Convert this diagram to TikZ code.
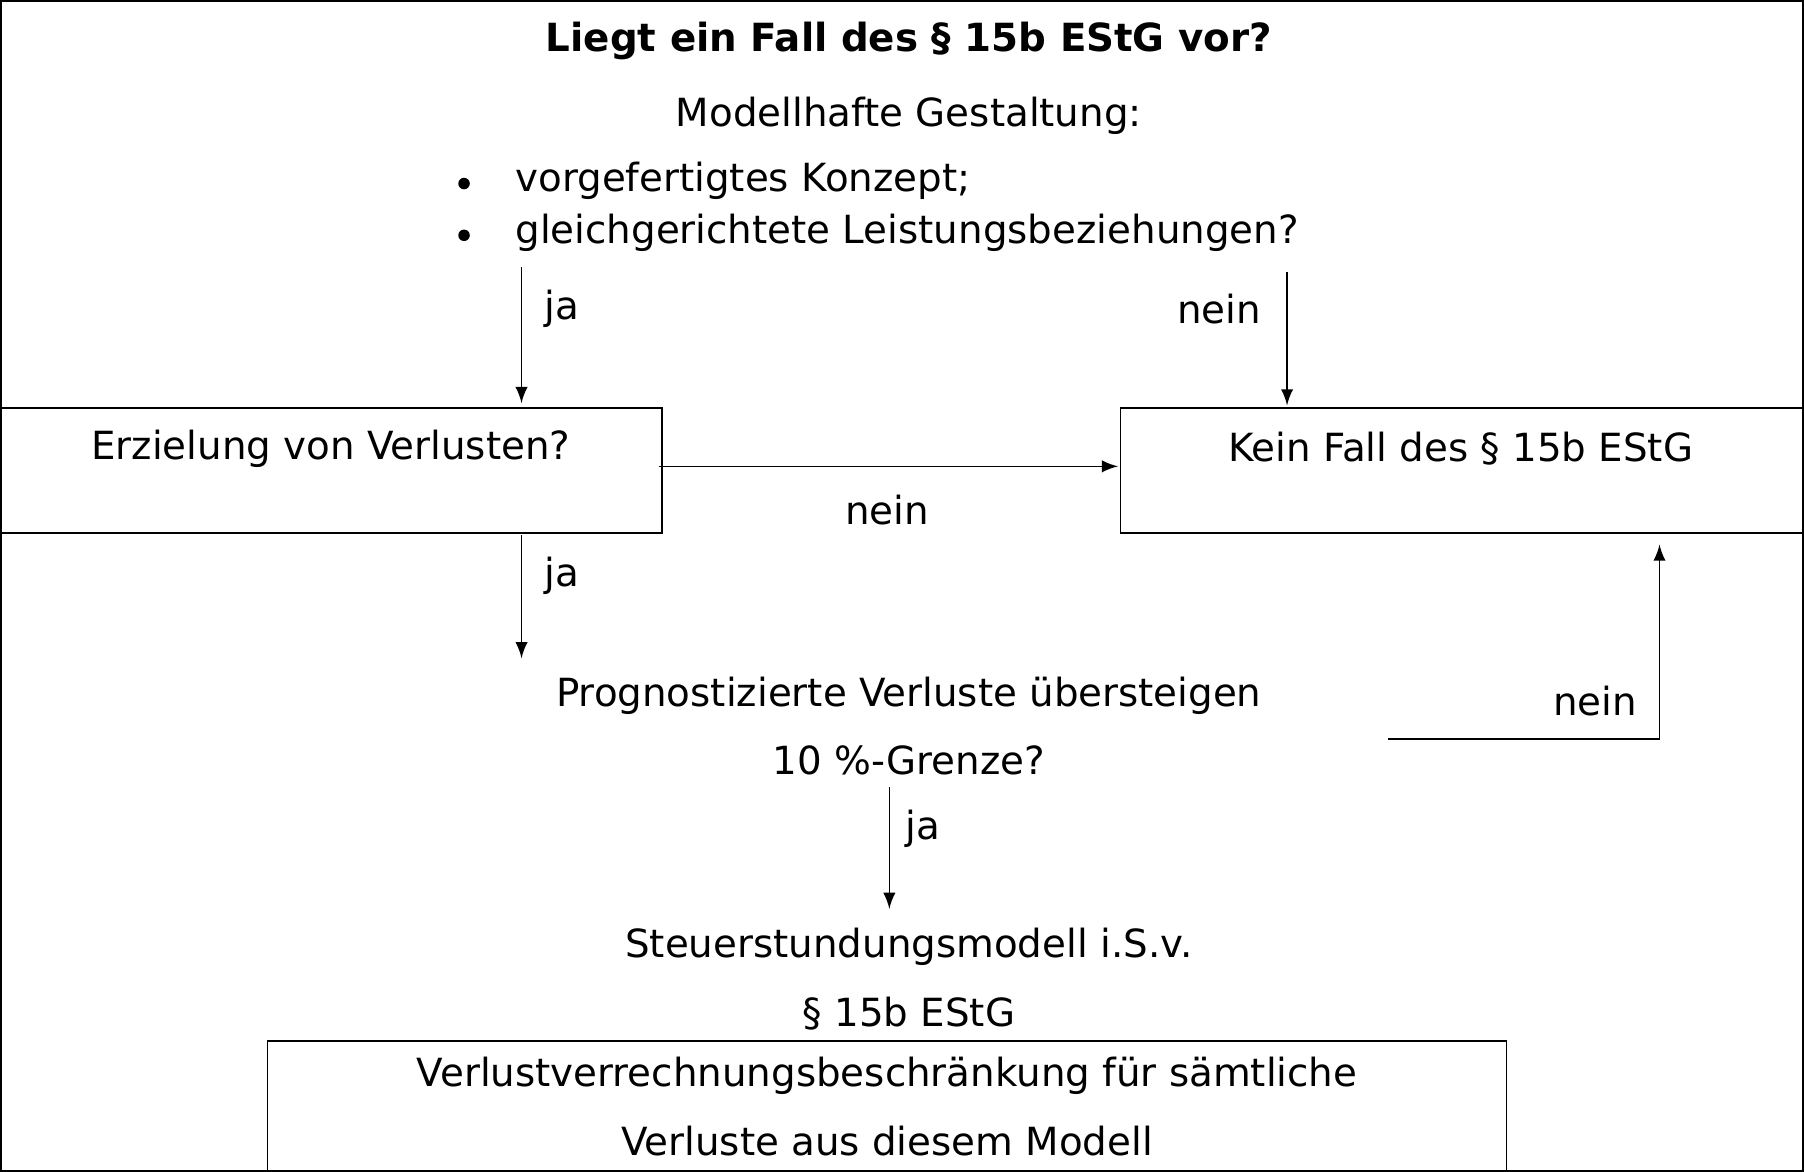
\documentclass[tikz,border=0pt]{standalone}
\usepackage{fontspec}
\setmainfont{DejaVu Sans}
\usetikzlibrary{positioning}
\begin{document}
\begin{tikzpicture}[x=0.1mm,y=-0.1mm,
    txt/.style={font=\fontsize{9.6}{13}\selectfont,align=center,inner sep=0pt},
    box/.style={draw,thin},
    arr/.style={-latex,thin}]
    % Frame
    \draw[thin] (0,0) rectangle (1568,1018);
    \useasboundingbox (0,0) rectangle (1568,1018);

    % Question
    \node[txt,font=\fontsize{9.6}{13}\selectfont\bfseries] (title) at (790,35) {Liegt ein Fall des § 15b EStG vor?};
    \node[txt] (model) at (790,100) {Modellhafte Gestaltung:};
    \node[txt,anchor=west] (b1) at (447,157) {vorgefertigtes Konzept;};
    \node[txt,anchor=west] (b2) at (447,202) {gleichgerichtete Leistungsbeziehungen?};
    \fill (403,159) circle [radius=5];
    \fill (403,204) circle [radius=5];

    % Boxes
    \draw[box] (0,354) rectangle (575,463);
    \node[txt] (verl) at (287,390) {Erzielung von Verlusten?};
    \draw[box] (974,354) rectangle (1568,463);
    \node[txt] (kein) at (1270,390) {Kein Fall des § 15b EStG};
    \draw[box] (232,905) rectangle (1310,1018);
    \node[txt] (beschr) at (771,962) {Verlustverrechnungsbeschränkung für sämtliche\\[4pt]Verluste aus diesem Modell};

    \node[txt] (prog) at (790,631) {Prognostizierte Verluste übersteigen\\[4pt]10 \%-Grenze?};
    \node[txt] (steuer) at (790,851) {Steuerstundungsmodell i.S.v.\\[4pt]§ 15b EStG};

    % Connectors
    \coordinate (a1) at (453,232); \coordinate (a2) at (453,350);
    \coordinate (n1) at (1119,236); \coordinate (n2) at (1119,352);
    \coordinate (h1) at (573,405); \coordinate (h2) at (972,405);
    \coordinate (j1) at (453,465); \coordinate (j2) at (453,572);
    \coordinate (r1) at (1207,642); \coordinate (r2) at (1443,642); \coordinate (r3) at (1443,473);
    \coordinate (s1) at (773,684); \coordinate (s2) at (773,790);
    \draw[arr] (a1) -- (a2);
    \draw[arr] (n1) -- (n2);
    \draw[arr] (h1) -- (h2);
    \draw[arr] (j1) -- (j2);
    \draw[arr] (r1) -- (r2) -- (r3);
    \draw[arr] (s1) -- (s2);

    % Labels
    \node[txt] (lja1) at (488,268) {ja};
    \node[txt] (lnein1) at (1060,268) {nein};
    \node[txt] (lnein2) at (771,443) {nein};
    \node[txt] (lja2) at (488,500) {ja};
    \node[txt] (lnein3) at (1387,609) {nein};
    \node[txt] (lja3) at (802,720) {ja};
\end{tikzpicture}
\end{document}
